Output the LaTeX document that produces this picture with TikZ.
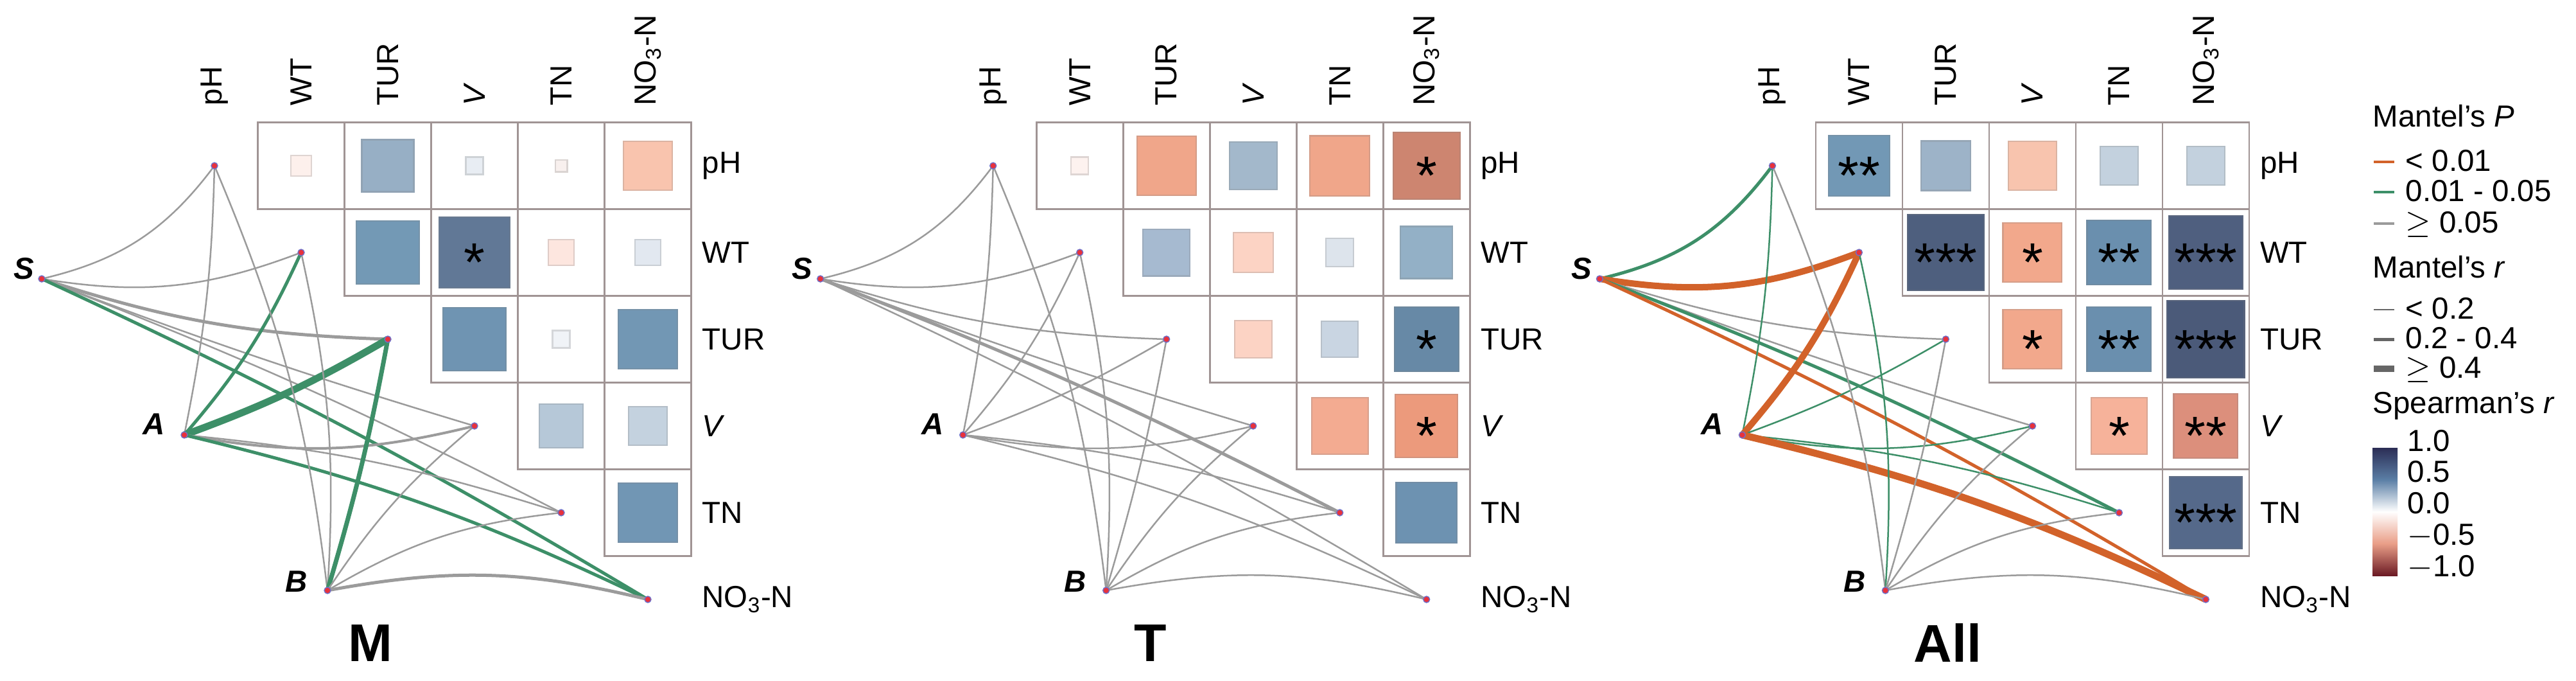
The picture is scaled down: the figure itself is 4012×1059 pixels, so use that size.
\documentclass[tikz,border=0pt]{standalone}
\usepackage{fontspec}
\setmainfont{Liberation Sans}
\definecolor{og}{HTML}{D2622A}
\definecolor{gn}{HTML}{3D8F68}
\definecolor{gr}{HTML}{9B9B9B}
\definecolor{lg}{HTML}{666666}
\definecolor{gridc}{HTML}{A09494}
\definecolor{dotf}{HTML}{E8323C}
\definecolor{dotd}{HTML}{7070C8}
\definecolor{sA}{HTML}{6B1A24}
\definecolor{sB}{HTML}{E99E87}
\definecolor{sC}{HTML}{FFFFFF}
\definecolor{sD}{HTML}{5B7FA6}
\definecolor{sE}{HTML}{2B2D55}
\pgfdeclareverticalshading{spear}{100bp}{color(0bp)=(sA);color(25bp)=(sA);color(37.5bp)=(sB);color(50bp)=(sC);color(62.5bp)=(sD);color(75bp)=(sE);color(100bp)=(sE)}
\newcommand\mypanel[6]{%
\begin{scope}[xshift=#2cm]
 \foreach \r/\c/\s/\h/\st in {#3}{
  \definecolor{cc}{HTML}{\h}
  \draw[cellb] ({334+135*\c-67.5},{258+135*\r-67.5}) rectangle ++(135,135);
  \draw[draw=cc!75!gray,fill=cc,line width=0.6pt] ({334+135*\c-67.5*\s},{258+135*\r-67.5*\s}) rectangle ({334+135*\c+67.5*\s},{258+135*\r+67.5*\s});
  \node[star] at ({334+135*\c},{258+135*\r+44}) {\st};
 }
 \foreach \n/\t [count=\i from 0] in {pH/pH,WT/WT,TUR/TUR,V/\textit{V},TN/TN,NO/NO\textsubscript{3}-N}{
  \node[lab,rotate=90,anchor=west] (#1c\n) at ({334+135*\i},165) {\t};
  \coordinate (#1\n) at ({334+135*\i},{258+135*\i});
  \node[lab,anchor=west] (#1r\n) at (1093,{258+135*\i}) {\t};
 }
 \coordinate (#1S) at (65,434);
 \coordinate (#1A) at (287,677);
 \coordinate (#1B) at (510,919);
 \foreach \f/\t/\cl/\w/\b in {#4}{
  \draw[draw=\cl,line width=\w*0.2845pt] (#1\f) to[bend left=\b] (#1\t);
 }
 \foreach \n in {pH,WT,TUR,V,TN,NO,S,A,B}{\node[dot] (#1d\n) at (#1\n) {};}
 \node[spl] (#1lS) at (37,418) {S};
 \node[spl] (#1lA) at (240,660) {A};
 \node[spl] (#1lB) at (462,905) {B};
 \node[ttl] (#1title) at (#6,1001) {#5};
\end{scope}}
\begin{document}
\begin{tikzpicture}[x=0.01cm,y={(0cm,-0.01cm)},
 lab/.style={font=\fontsize{13.5}{14}\selectfont,inner sep=0pt},
 leg/.style={lab,anchor=west,text height=9.5pt,text depth=1pt},
 spl/.style={font=\fontsize{13.5}{14}\selectfont\bfseries\itshape,inner sep=0pt},
 ttl/.style={font=\fontsize{23.5}{24}\selectfont\bfseries,inner sep=0pt},
 star/.style={font=\fontsize{24}{24}\selectfont,inner sep=0pt,anchor=base},
 cellb/.style={draw=gridc,line width=0.8pt},
 dot/.style={circle,fill=dotf,draw=dotd,line width=0.4pt,inner sep=0pt,minimum size=0.1cm}]
\useasboundingbox (0,0) rectangle (4012,1059);
\mypanel{M}{0}{0/1/0.24/FDF0EC/{},0/2/0.6/97AFC5/{},0/3/0.2/E8EDF3/{},0/4/0.14/F8F0EE/{},0/5/0.56/F9C4AE/{},1/2/0.72/7399B5/{},1/3/0.82/617896/*,1/4/0.3/FDE6DF/{},1/5/0.3/E2E8F0/{},2/3/0.73/6F94B2/{},2/4/0.2/F0F3F7/{},2/5/0.68/7297B4/{},3/4/0.5/B6C8D8/{},3/5/0.45/C4D2DF/{},4/5/0.68/7196B4/{}}{S/pH/gr/2.5/-20,S/WT/gr/2.5/-15,S/TUR/gr/5/-8,S/V/gr/2.5/-2,S/TN/gr/2.5/3,S/NO/gn/5/3,A/pH/gr/2.5/-5,A/WT/gn/5/-8,A/TUR/gn/11/-5,A/V/gr/4/-12,A/TN/gr/2.5/6,A/NO/gn/5/6,B/pH/gr/2.5/-8,B/WT/gr/2.5/-8,B/TUR/gn/7/-3,B/V/gr/2.5/8,B/TN/gr/2.5/12,B/NO/gr/5/12}{M}{577}
\mypanel{T}{12.12}{0/1/0.2/FDF2EF/{},0/2/0.68/F0A68A/{},0/3/0.55/A3B8CB/{},0/4/0.69/F0A68A/{},0/5/0.77/CD8570/*,1/2/0.54/A6BAD0/{},1/3/0.46/FCD3C4/{},1/4/0.32/DDE4EC/{},1/5/0.6/93B0C6/{},2/3/0.43/FCD3C4/{},2/4/0.42/C9D5E2/{},2/5/0.74/6789A6/*,3/4/0.65/F3AB91/{},3/5/0.72/EC9A7C/*,4/5/0.7/6D92B1/{}}{S/pH/gr/2.5/-20,S/WT/gr/2.5/-15,S/TUR/gr/2.5/-8,S/V/gr/2.5/-2,S/TN/gr/5/3,S/NO/gr/2.5/3,A/pH/gr/2.5/-5,A/WT/gr/2.5/-8,A/TUR/gr/2.5/-5,A/V/gr/2.5/-12,A/TN/gr/2.5/6,A/NO/gr/2.5/6,B/pH/gr/2.5/-8,B/WT/gr/2.5/-8,B/TUR/gr/2.5/-3,B/V/gr/2.5/8,B/TN/gr/2.5/12,B/NO/gr/2.5/12}{T}{579}
\mypanel{L}{24.25}{0/1/0.7/7298B5/**,0/2/0.57/9DB3C8/{},0/3/0.56/F8C4AE/{},0/4/0.44/C3D1DE/{},0/5/0.44/C3D1DE/{},1/2/0.88/4E5F7E/***,1/3/0.68/F2A88C/*,1/4/0.74/6A8FAE/**,1/5/0.85/4F5F7F/***,2/3/0.68/F2A88C/*,2/4/0.74/6A8FAE/**,2/5/0.89/4B5A79/***,3/4/0.65/F6B29A/*,3/5/0.74/DC8F7C/**,4/5/0.83/55698A/***}{S/pH/gn/5/-20,S/WT/og/10/-15,S/TUR/gr/2.5/-8,S/V/gr/2.5/-2,S/TN/gn/5/3,S/NO/og/5/3,A/pH/gn/2.5/-5,A/WT/og/10/-8,A/TUR/gn/2.5/-5,A/V/gn/2.5/-12,A/TN/gn/2.5/6,A/NO/og/11/6,B/pH/gr/2.5/-8,B/WT/gn/2.5/-8,B/TUR/gr/2.5/-3,B/V/gr/2.5/8,B/TN/gr/2.5/12,B/NO/gr/2.5/12}{All}{607}
% legend
\node[leg] (hP) at (3695,183) {Mantel's \textit{P}};
\foreach \y/\cl/\t [count=\i] in {252/og/< 0.01,299/gn/0.01 - 0.05,348/gr/$\geq$ 0.05}{
 \coordinate (pa\i) at (3697,\y); \coordinate (pb\i) at (3729,\y);
 \draw[draw=\cl,line width=1.4pt] (pa\i) -- (pb\i);
 \node[leg] (pt\i) at (3746,\y) {\t};
}
\node[leg] (hr) at (3695,418) {Mantel's \textit{r}};
\foreach \y/\w/\t [count=\i] in {482/2/< 0.2,528/5/0.2 - 0.4,574/10/$\geq$ 0.4}{
 \coordinate (ra\i) at (3697,\y); \coordinate (rb\i) at (3729,\y);
 \draw[draw=lg,line width=\w*0.2845pt] (ra\i) -- (rb\i);
 \node[leg] (rt\i) at (3746,\y) {\t};
}
\node[leg] (hs) at (3695,629) {Spearman's \textit{r}};
\shade[shading=spear] (3695,697) rectangle (3734,896);
\foreach \y/\t [count=\i] in {688/1.0,736/0.5,785/0.0,834/$-$0.5,883/$-$1.0}{
 \node[leg] (st\i) at (3749,\y) {\t};
}
\end{tikzpicture}
\end{document}
